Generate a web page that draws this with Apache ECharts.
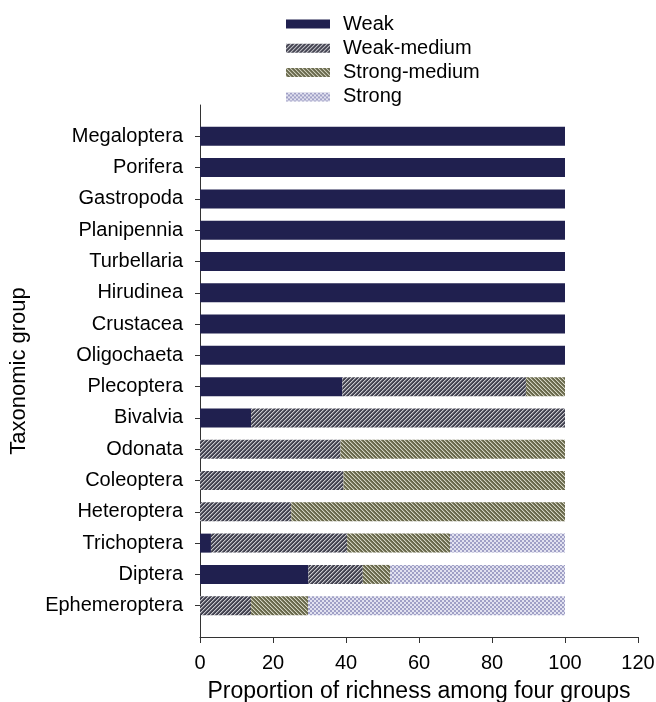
<!DOCTYPE html>
<html>
<head>
<meta charset="utf-8">
<script src="https://cdn.jsdelivr.net/npm/echarts@6/dist/echarts.min.js"></script>
<style>
  html, body { margin: 0; padding: 0; background: #fff; }
  #chart { width: 656px; height: 702px; }
</style>
</head>
<body>
<div id="chart"></div>
<script>
// Taxonomic groups, top to bottom
const categories = ['Megaloptera', 'Porifera', 'Gastropoda', 'Planipennia', 'Turbellaria',
  'Hirudinea', 'Crustacea', 'Oligochaeta', 'Plecoptera', 'Bivalvia', 'Odonata',
  'Coleoptera', 'Heteroptera', 'Trichoptera', 'Diptera', 'Ephemeroptera'];

// Proportion of richness (%) in each tolerance group
const weak         = [100, 100, 100, 100, 100, 100, 100, 100, 39, 14, 0, 0, 0, 3, 29.7, 0];
const weakMedium   = [0, 0, 0, 0, 0, 0, 0, 0, 50.3, 86, 38.5, 39.3, 25, 37.3, 14.9, 14];
const strongMedium = [0, 0, 0, 0, 0, 0, 0, 0, 10.7, 0, 61.5, 60.7, 75, 28.2, 7.5, 15.6];
const strong       = [0, 0, 0, 0, 0, 0, 0, 0, 0, 0, 0, 0, 0, 31.5, 47.9, 70.4];

const seriesNames = ['Weak', 'Weak-medium', 'Strong-medium', 'Strong'];
const xTicks = [0, 20, 40, 60, 80, 100, 120];

// Small repeating tiles used as bar fills
function tile(size, painter) {
  const c = document.createElement('canvas');
  c.width = size; c.height = size;
  const ctx = c.getContext('2d');
  const img = ctx.createImageData(size, size);
  for (let y = 0; y < size; y++) {
    for (let x = 0; x < size; x++) {
      const rgb = painter(x, y);
      const i = (y * size + x) * 4;
      img.data[i] = rgb[0]; img.data[i + 1] = rgb[1]; img.data[i + 2] = rgb[2]; img.data[i + 3] = 255;
    }
  }
  ctx.putImageData(img, 0, 0);
  return { image: c, repeat: 'repeat' };
}

// forward diagonal stripes on slate
const hatchForward = tile(4, (x, y) => {
  const k = (x + y) % 4;
  if (k === 0) return [200, 200, 206];
  if (k === 1) return [118, 118, 128];
  return [66, 66, 80];
});
// backward diagonal stripes on olive
const hatchBack = tile(4, (x, y) => {
  const k = (x - y + 8) % 4;
  if (k === 0) return [212, 212, 196];
  if (k === 1) return [140, 140, 112];
  return [104, 104, 76];
});
// lavender checker
const checker = tile(4, (x, y) => {
  const d = ((x >> 1) + (y >> 1)) % 2 === 0;
  return d ? [160, 160, 198] : [226, 226, 240];
});

const fills = ['#20204f', hatchForward, hatchBack, checker];
const values = [weak, weakMedium, strongMedium, strong];

// empty slots above and below give the axis its extra space
const axisCats = [''].concat(categories, ['']);

const series = seriesNames.map((name, s) => ({
  name: name,
  type: 'bar',
  stack: 'total',
  barWidth: 19,
  itemStyle: { color: fills[s] },
  emphasis: { disabled: true },
  data: ['-'].concat(values[s].map(v => (v > 0 ? v : '-')), ['-'])
}));

const chart = echarts.init(document.getElementById('chart'), null, { renderer: 'canvas' });
chart.setOption({
  animation: false,
  backgroundColor: '#fff',
  textStyle: { fontFamily: 'Liberation Sans, Arial, sans-serif', color: '#000' },
  legend: {
    orient: 'vertical',
    left: 281,
    top: 9,
    itemWidth: 44,
    itemHeight: 9,
    itemGap: 4.3,
    icon: 'rect',
    data: seriesNames,
    textStyle: { fontSize: 20, lineHeight: 20, color: '#000', padding: [0, 0, 0, 8] }
  },
  grid: { left: 200, right: 18, top: 105, bottom: 65, containLabel: false, outerBoundsMode: 'none' },
  xAxis: {
    type: 'value',
    min: xTicks[0],
    max: xTicks[xTicks.length - 1],
    interval: 20,
    name: 'Proportion of richness among four groups',
    nameLocation: 'middle',
    nameGap: 43,
    nameTextStyle: { fontSize: 23, color: '#000' },
    axisLine: { show: true, lineStyle: { color: '#333', width: 1 } },
    axisTick: { show: true, inside: false, length: 6, lineStyle: { color: '#333' } },
    axisLabel: { fontSize: 20, color: '#000', margin: 16 },
    splitLine: { show: false }
  },
  yAxis: {
    type: 'category',
    inverse: true,
    boundaryGap: false,
    data: axisCats,
    name: 'Taxonomic group',
    nameLocation: 'middle',
    nameGap: 170,
    nameRotate: 90,
    nameTextStyle: { fontSize: 22, color: '#000' },
    axisLine: { show: true, lineStyle: { color: '#333', width: 1 } },
    axisTick: {
      show: true, length: 5, lineStyle: { color: '#333' },
      interval: (i) => i > 0 && i < axisCats.length - 1
    },
    axisLabel: { fontSize: 20, color: '#000', margin: 17, interval: 0 },
    splitLine: { show: false }
  },
  series: series
});
</script>
</body>
</html>
